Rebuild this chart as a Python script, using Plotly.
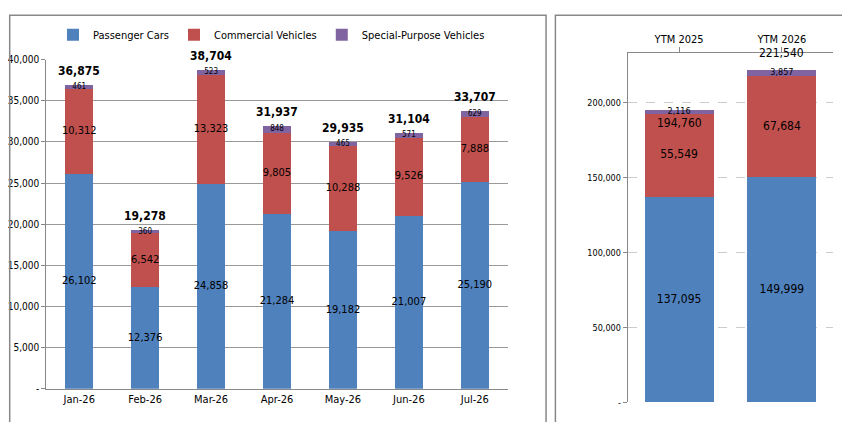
import plotly.graph_objects as go

# Monthly data
months = ['Jan-26', 'Feb-26', 'Mar-26', 'Apr-26', 'May-26', 'Jun-26', 'Jul-26']
passenger = [26102, 12376, 24858, 21284, 19182, 21007, 25190]
commercial = [10312, 6542, 13323, 9805, 10288, 9526, 7888]
special = [461, 360, 523, 848, 465, 571, 629]

# Year-to-month data
ytm_labels = ['YTM 2025', 'YTM 2026']
ytm_passenger = [137095, 149999]
ytm_commercial = [55549, 67684]
ytm_special = [2116, 3857]

BLUE = '#4F81BD'
RED = '#C0504D'
PURPLE = '#8064A2'
FONT = 'DejaVu Sans Condensed, Liberation Sans Narrow, Liberation Sans, sans-serif'

fig = go.Figure()


def add_stack(x, pc, cv, sp, xa, ya, width, legend, label_size):
    for vals, name, color in [(pc, 'Passenger Cars', BLUE),
                              (cv, 'Commercial Vehicles', RED),
                              (sp, 'Special-Purpose Vehicles', PURPLE)]:
        fig.add_trace(go.Bar(
            x=x, y=vals, name=name, marker=dict(color=color, line=dict(width=0)),
            width=width, xaxis=xa, yaxis=ya, showlegend=legend, hoverinfo='y+name'))
    # segment labels as text so they keep one size
    mids = [[a / 2 for a in pc],
            [a + b / 2 for a, b in zip(pc, cv)],
            [a + b + c / 2 for a, b, c in zip(pc, cv, sp)]]
    for ys, vals, size in [(mids[0], pc, label_size), (mids[1], cv, label_size),
                           (mids[2], sp, label_size - 3)]:
        fig.add_trace(go.Scatter(
            x=x, y=ys, mode='text', text=[f'{v:,}' for v in vals],
            textfont=dict(size=size, color='black'),
            xaxis=xa, yaxis=ya, showlegend=False, hoverinfo='skip'))


add_stack(months, passenger, commercial, special, 'x', 'y', 0.42, True, 11)
add_stack(ytm_labels, ytm_passenger, ytm_commercial, ytm_special, 'x2', 'y2', 0.67, False, 12)

totals = [a + b + c for a, b, c in zip(passenger, commercial, special)]
annotations = [dict(x=m, y=t, xref='x', yref='y', text=f'<b>{t:,}</b>', showarrow=False,
                    yanchor='bottom', yshift=5, font=dict(size=12, color='black'))
               for m, t in zip(months, totals)]

ytm_totals = [a + b + c for a, b, c in zip(ytm_passenger, ytm_commercial, ytm_special)]
annotations += [dict(x=ytm_labels[0], y=ytm_totals[0], xref='x2', yref='y2',
                     text=f'{ytm_totals[0]:,}', showarrow=False, yanchor='top', yshift=-4,
                     font=dict(size=12, color='black')),
                dict(x=ytm_labels[1], y=ytm_totals[1], xref='x2', yref='y2',
                     text=f'{ytm_totals[1]:,}', showarrow=False, yanchor='bottom', yshift=8,
                     font=dict(size=12, color='black'))]

fig.update_layout(
    width=850, height=422, barmode='stack',
    paper_bgcolor='white', plot_bgcolor='white',
    font=dict(family=FONT, size=10, color='black'),
    margin=dict(l=0, r=0, t=0, b=0),
    annotations=annotations,
    legend=dict(orientation='h', x=0.31, xanchor='center', y=0.985, yanchor='top',
                font=dict(size=11), traceorder='normal'),
    xaxis=dict(domain=[0.045, 0.588], showline=True, linecolor='#888', ticks='',
               tickfont=dict(size=11)),
    yaxis=dict(domain=[0.088, 0.889], range=[0, 40000], tickformat=',',
               showgrid=True, gridcolor='#999', showline=True, linecolor='#888',
               ticks='outside', ticklen=4, tickcolor='#888',
               tickvals=list(range(0, 40001, 5000)),
               ticktext=['-'] + [f'{v:,}' for v in range(5000, 40001, 5000)]),
    xaxis2=dict(domain=[0.729, 0.971], anchor='y2', side='top', showline=True,
                linecolor='#888', ticks='outside', tickcolor='#888', tickfont=dict(size=11)),
    yaxis2=dict(domain=[0.055, 0.905], anchor='x2', range=[0, 233000],
                showgrid=True, gridcolor='#ccc', griddash='dash', showline=True, linecolor='#888',
                ticks='outside', ticklen=4, tickcolor='#888', tickfont=dict(size=9),
                tickvals=list(range(0, 200001, 50000)),
                ticktext=['-'] + [f'{v:,}' for v in range(50000, 200001, 50000)]),
    shapes=[
        dict(type='rect', xref='paper', yref='paper', x0=0.002, x1=0.633, y0=0.003, y1=0.997,
             line=dict(color='#888', width=1.5)),
        dict(type='rect', xref='paper', yref='paper', x0=0.644, x1=0.998, y0=0.003, y1=0.997,
             line=dict(color='#888', width=1.5)),
    ],
)

fig.write_html('out.html')
